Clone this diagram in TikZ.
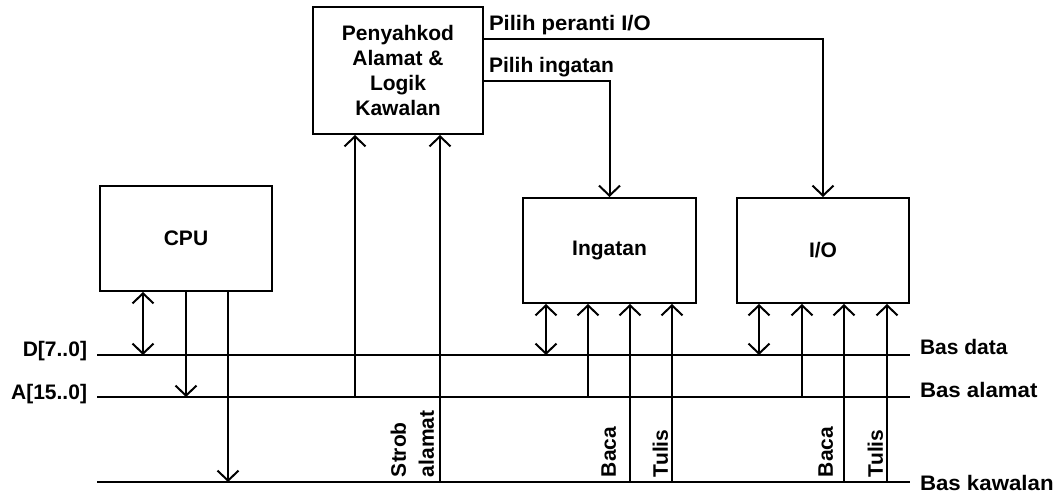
\documentclass[tikz,border=0pt]{standalone}
\usepackage{fontspec}
\setmainfont{Liberation Sans}
\usetikzlibrary{arrows.meta}
\begin{document}
\begin{tikzpicture}[x=1pt,y=-1pt,line width=2pt,
  lbl/.style={font=\fontsize{21}{25}\selectfont\bfseries, inner sep=0pt},
  blk/.style={draw, line width=2pt, font=\fontsize{21}{25}\selectfont\bfseries, inner sep=0pt, align=center},
  arr/.style={-{Straight Barb[length=10pt,width=21pt]}},
  arrb/.style={{Straight Barb[length=10pt,width=21pt]}-{Straight Barb[length=10pt,width=21pt]}},
  vlbl/.style={lbl, rotate=90, anchor=south west, align=left, font=\fontsize{21}{28}\selectfont\bfseries}]
\useasboundingbox (0,0) rectangle (1061,495);

% blocks
\node[blk, minimum width=170pt, minimum height=127pt] (dec) at (398,70.5) {Penyahkod\\Alamat \&\\Logik\\Kawalan};
\node[blk, minimum width=172pt, minimum height=105pt] (cpu) at (186,238.5) {CPU};
\node[blk, minimum width=173pt, minimum height=105pt] (mem) at (609.5,250.5) {Ingatan};
\node[blk, minimum width=172pt, minimum height=105pt] (io) at (823,250.5) {I/O};

% buses
\coordinate (dL) at (97,355);  \coordinate (dR) at (910,355);
\coordinate (aL) at (97,397);  \coordinate (aR) at (910,397);
\coordinate (cL) at (97,482);  \coordinate (cR) at (910,482);
\draw (dL) -- (dR);
\draw (aL) -- (aR);
\draw (cL) -- (cR);

\node[lbl, anchor=east] (dlab) at (88,351) {D[7..0]};
\node[lbl, anchor=east] (alab) at (88,394) {A[15..0]};
\node[lbl, anchor=west] (bdata) at (919,347) {Bas data};
\node[lbl, anchor=west] (balamat) at (919,390) {\scalebox{1.06}[1]{Bas alamat}};
\node[lbl, anchor=west] (bkawal) at (919,483) {\scalebox{1.06}[1]{Bas kawalan}};

% tap points
\coordinate (d1) at (143,355);
\coordinate (d2) at (546,355);
\coordinate (d3) at (759,355);
\coordinate (a1) at (186,397);
\coordinate (a2) at (355,397);
\coordinate (a3) at (588,397);
\coordinate (a4) at (802,397);
\coordinate (c1) at (228,482);
\coordinate (c2) at (440,482);
\coordinate (c3) at (630,482);
\coordinate (c4) at (672,482);
\coordinate (c5) at (844,482);
\coordinate (c6) at (887,482);

% CPU
\draw[arrb] (cpu.south -| d1) -- (d1);
\draw[arr] (cpu.south -| a1) -- (a1);
\draw[arr] (cpu.south -| c1) -- (c1);

% decoder inputs
\draw[arr] (a2) -- (dec.south -| a2);
\draw[arr] (c2) -- (dec.south -| c2);
\node[vlbl] (strob) at (435,478) {Strob\\alamat};

% decoder outputs
\coordinate (selio) at (483,39);
\coordinate (selm) at (483,81);
\draw[arr] (selio) -| (io.north);
\draw[arr] (selm) -| (mem.north);
\node[lbl, anchor=base west] (lio) at (488,31) {\scalebox{1.05}[1]{Pilih peranti I/O}};
\node[lbl, anchor=base west] (lm) at (488,73) {Pilih ingatan};

% memory
\draw[arrb] (mem.south -| d2) -- (d2);
\draw[arr] (a3) -- (mem.south -| a3);
\draw[arr] (c3) -- (mem.south -| c3);
\draw[arr] (c4) -- (mem.south -| c4);
\node[vlbl] (mbaca) at (617,478) {Baca};
\node[vlbl] (mtulis) at (669,478) {Tulis};

% I/O
\draw[arrb] (io.south -| d3) -- (d3);
\draw[arr] (a4) -- (io.south -| a4);
\draw[arr] (c5) -- (io.south -| c5);
\draw[arr] (c6) -- (io.south -| c6);
\node[vlbl] (ibaca) at (834,478) {Baca};
\node[vlbl] (itulis) at (884,478) {Tulis};
\end{tikzpicture}
\end{document}
